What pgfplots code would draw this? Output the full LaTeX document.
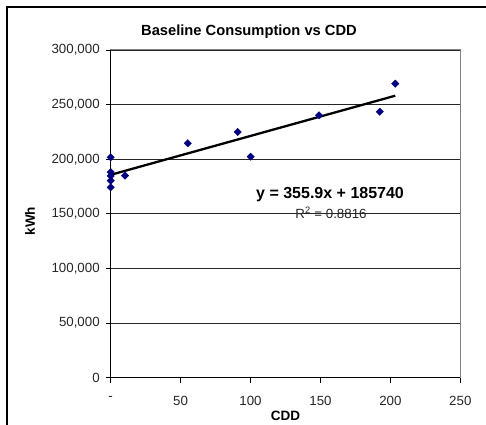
\documentclass[border=0pt]{standalone}
\usepackage{pgfplots}
\pgfplotsset{compat=1.18}
\usepackage{fontspec}
\setmainfont{Liberation Sans}
\definecolor{navy}{HTML}{000080}
\definecolor{frame}{HTML}{808080}
\begin{document}
\begin{tikzpicture}[x=1bp,y=1bp]
\useasboundingbox (0,0) rectangle (486,424);
\draw[line width=1.3bp,black] (7,-10) rectangle (491,417);
\begin{axis}[
  at={(110.7bp,46.3bp)}, anchor=south west,
  scale only axis, width=349.6bp, height=327.7bp,
  xmin=0, xmax=250, ymin=0, ymax=300000,
  scaled y ticks=false, scaled x ticks=false,
  xtick={0,50,100,150,200,250},
  xticklabels={{-\hspace{14.8bp}},50,100,150,200,250},
  ytick={0,50000,100000,150000,200000,250000,300000},
  yticklabels={0,{50,000},{100,000},{150,000},{200,000},{250,000},{300,000}},
  tick label style={font=\fontsize{13.3bp}{15bp}\selectfont, text=black!85},
  xticklabel style={yshift=-10bp},
  yticklabel style={xshift=-2.5bp},
  tick align=outside, xtick pos=bottom, ytick pos=left,
  major tick length=5bp,
  tick style={black, line width=0.9bp},
  axis line style={draw=frame, line width=1bp},
  ymajorgrids, grid style={black!85, line width=1.1bp},
  clip=false,
]
\addplot[only marks, mark=square*, mark size=2.6bp, mark options={rotate=45, fill=navy, draw=navy}]
coordinates {
(0,201800) (0,188300) (0,184700) (0,180400) (0,174300)
(10.2,185000) (55.1,214600) (90.8,225000) (100.1,202300)
(149,240200) (192.4,243500) (203.5,269200)
};
\addplot[black, line width=2.3bp] coordinates {(0,185740) (203.5,258166)};
\draw[black, line width=1.4bp] (rel axis cs:0,1) -- (rel axis cs:0,0) -- (rel axis cs:1,0);
\end{axis}
\node[font=\bfseries\fontsize{14.7bp}{17bp}\selectfont] at (249,392) {Baseline Consumption vs CDD};
\node[font=\bfseries\fontsize{13.5bp}{16bp}\selectfont] at (285.5,8) {CDD};
\node[font=\bfseries\fontsize{13.5bp}{16bp}\selectfont, rotate=90] at (30,203) {kWh};
\node[font=\bfseries\fontsize{16bp}{18bp}\selectfont, anchor=west] at (252.7,229) {y = 355.9x + 185740};
\node[font=\fontsize{13.3bp}{15bp}\selectfont, text=black!85] at (331,211) {R\textsuperscript{2} = 0.8816};
\end{tikzpicture}
\end{document}
